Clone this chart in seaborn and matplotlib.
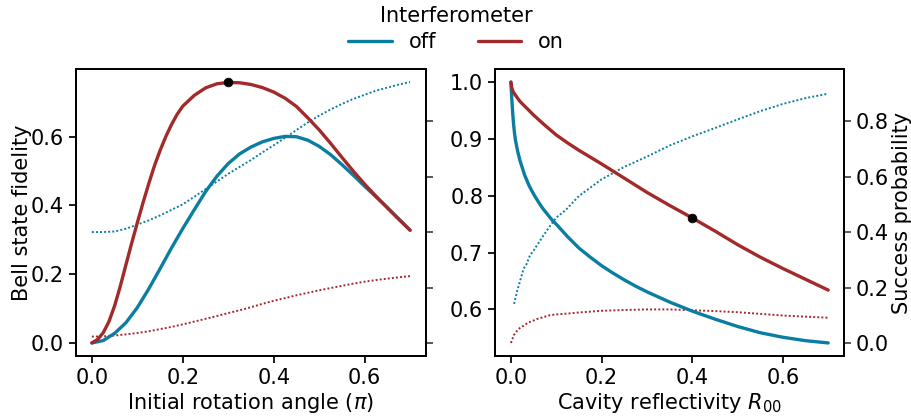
import matplotlib
matplotlib.use("Agg")
import matplotlib.pyplot as plt
import seaborn as sns
from matplotlib.lines import Line2D

# ---- Left panel: fidelity / success probability vs initial rotation angle (units of pi)
angle_x_off = [0.0, 0.025, 0.05, 0.075, 0.1, 0.125, 0.15, 0.175, 0.2, 0.225, 0.25, 0.275,
               0.3, 0.325, 0.35, 0.375, 0.4, 0.425, 0.45, 0.475, 0.5, 0.525, 0.55, 0.575,
               0.6, 0.625, 0.65, 0.675, 0.7]
fid_off_angle = [0.0, 0.007, 0.028, 0.059, 0.103, 0.157, 0.216, 0.276, 0.333, 0.387, 0.44,
                 0.485, 0.522, 0.55, 0.57, 0.585, 0.595, 0.601, 0.600, 0.59, 0.572, 0.548,
                 0.519, 0.488, 0.456, 0.425, 0.394, 0.361, 0.328]

angle_x_on = [0.0, 0.0125, 0.025, 0.0375, 0.05, 0.0625, 0.075, 0.0875, 0.1, 0.1125, 0.125,
              0.1375, 0.15, 0.1625, 0.175, 0.1875, 0.2, 0.225, 0.25, 0.275, 0.3, 0.325, 0.35,
              0.375, 0.4, 0.425, 0.45, 0.475, 0.5, 0.525, 0.55, 0.575, 0.6, 0.625, 0.65,
              0.675, 0.7]
fid_on_angle = [0.0, 0.01, 0.03, 0.062, 0.108, 0.165, 0.228, 0.29, 0.35, 0.408, 0.463,
                0.515, 0.56, 0.60, 0.635, 0.665, 0.689, 0.72, 0.742, 0.754, 0.758, 0.757,
                0.752, 0.743, 0.73, 0.712, 0.688, 0.655, 0.62, 0.581, 0.54, 0.50, 0.462,
                0.427, 0.393, 0.36, 0.328]

angle_x_prob = [0.0, 0.025, 0.05, 0.075, 0.1, 0.125, 0.15, 0.175, 0.2, 0.225, 0.25, 0.275,
                0.3, 0.325, 0.35, 0.375, 0.4, 0.425, 0.45, 0.475, 0.5, 0.525, 0.55, 0.575,
                0.6, 0.625, 0.65, 0.675, 0.7]
prob_off_angle = [0.40, 0.40, 0.402, 0.412, 0.427, 0.442, 0.46, 0.48, 0.50, 0.527, 0.555,
                  0.582, 0.61, 0.635, 0.66, 0.687, 0.713, 0.74, 0.768, 0.795, 0.82, 0.842,
                  0.862, 0.88, 0.895, 0.91, 0.921, 0.932, 0.941]
prob_on_angle = [0.023, 0.024, 0.027, 0.031, 0.036, 0.042, 0.05, 0.058, 0.067, 0.077, 0.087,
                 0.097, 0.108, 0.118, 0.129, 0.141, 0.152, 0.162, 0.172, 0.181, 0.19, 0.198,
                 0.206, 0.214, 0.221, 0.227, 0.232, 0.237, 0.241]

best_angle = 0.3
best_angle_fid = 0.758

# ---- Right panel: fidelity / success probability vs cavity reflectivity R00
refl_x_off = [0.0, 0.001, 0.002, 0.004, 0.006, 0.008, 0.01, 0.015, 0.02, 0.03, 0.04, 0.05,
              0.06, 0.07, 0.08, 0.09, 0.1, 0.125, 0.15, 0.175, 0.2, 0.225, 0.25, 0.275, 0.3,
              0.325, 0.35, 0.375, 0.4, 0.45, 0.5, 0.55, 0.6, 0.65, 0.7]
fid_off_refl = [1.0, 0.985, 0.97, 0.945, 0.925, 0.91, 0.898, 0.878, 0.862, 0.837, 0.818,
                0.803, 0.79, 0.778, 0.768, 0.758, 0.75, 0.728, 0.708, 0.692, 0.677, 0.664,
                0.652, 0.641, 0.631, 0.622, 0.613, 0.605, 0.597, 0.583, 0.570, 0.559, 0.551,
                0.545, 0.541]

refl_x_on = [0.0, 0.002, 0.005, 0.01, 0.02, 0.03, 0.05, 0.075, 0.1, 0.125, 0.15, 0.175, 0.2,
             0.25, 0.3, 0.35, 0.4, 0.45, 0.5, 0.55, 0.6, 0.65, 0.7]
fid_on_refl = [1.0, 0.99, 0.983, 0.977, 0.966, 0.958, 0.942, 0.924, 0.907, 0.893, 0.88,
               0.868, 0.856, 0.831, 0.806, 0.783, 0.761, 0.738, 0.714, 0.692, 0.672, 0.653,
               0.634]

refl_x_prob_off = [0.007, 0.014, 0.021, 0.028, 0.035, 0.042, 0.05, 0.057, 0.064, 0.071, 0.078,
                   0.085, 0.1, 0.12, 0.15, 0.2, 0.25, 0.3, 0.35, 0.4, 0.45, 0.5, 0.55, 0.6,
                   0.65, 0.7]
prob_off_refl = [0.141, 0.189, 0.228, 0.268, 0.286, 0.316, 0.333, 0.351, 0.368, 0.386, 0.402,
                 0.419, 0.452, 0.478, 0.53, 0.59, 0.635, 0.672, 0.712, 0.745, 0.775, 0.806,
                 0.836, 0.862, 0.883, 0.899]

refl_x_prob_on = [0.0, 0.007, 0.014, 0.021, 0.028, 0.035, 0.042, 0.05, 0.057, 0.071, 0.085,
                  0.1, 0.125, 0.15, 0.2, 0.25, 0.3, 0.35, 0.4, 0.45, 0.5, 0.55, 0.6, 0.65, 0.7]
prob_on_refl = [0.0, 0.03, 0.045, 0.056, 0.062, 0.07, 0.076, 0.081, 0.086, 0.093, 0.1,
                0.103, 0.106, 0.11, 0.116, 0.119, 0.121, 0.121, 0.118, 0.115, 0.111, 0.105,
                0.099, 0.095, 0.091]

best_refl = 0.4
best_refl_fid = 0.761

legend_labels = ["off", "on"]
legend_title = "Interferometer"

C_OFF = "#0A7EA2"
C_ON = "#A32A2A"
LW = 2.4
DOT = dict(lw=1.4, ls=(0, (1, 1.1)))

sns.set_theme(style="ticks", context="notebook")
plt.rcParams["font.family"] = ["DejaVu Sans"]
plt.rcParams.update({
    "font.size": 15,
    "axes.labelsize": 15,
    "xtick.labelsize": 15,
    "ytick.labelsize": 15,
    "text.color": "black",
    "axes.labelcolor": "black",
    "axes.edgecolor": "black",
    "axes.linewidth": 1.3,
    "xtick.color": "black",
    "ytick.color": "black",
    "xtick.major.size": 5,
    "ytick.major.size": 5,
    "xtick.major.pad": 3.5,
    "ytick.major.pad": 3.5,
    "lines.solid_joinstyle": "round",
})

fig = plt.figure(figsize=(9.12, 4.18), dpi=100)
ax1 = fig.add_axes([0.0833, 0.1483, 0.3838, 0.6866])
ax2 = fig.add_axes([0.5428, 0.1483, 0.3827, 0.6866])
ax1r = ax1.twinx()
ax2r = ax2.twinx()
ax2r.sharey(ax1r)

# left panel
sns.lineplot(x=angle_x_off, y=fid_off_angle, ax=ax1, color=C_OFF, lw=LW)
sns.lineplot(x=angle_x_on, y=fid_on_angle, ax=ax1, color=C_ON, lw=LW)
sns.scatterplot(x=[best_angle], y=[best_angle_fid], ax=ax1, color="black", s=40,
                edgecolor="black", zorder=5)
sns.lineplot(x=angle_x_prob, y=prob_off_angle, ax=ax1r, color=C_OFF, **DOT)
sns.lineplot(x=angle_x_prob, y=prob_on_angle, ax=ax1r, color=C_ON, **DOT)

# right panel
sns.lineplot(x=refl_x_off, y=fid_off_refl, ax=ax2, color=C_OFF, lw=LW)
sns.lineplot(x=refl_x_on, y=fid_on_refl, ax=ax2, color=C_ON, lw=LW)
sns.scatterplot(x=[best_refl], y=[best_refl_fid], ax=ax2, color="black", s=40,
                edgecolor="black", zorder=5)
sns.lineplot(x=refl_x_prob_off, y=prob_off_refl, ax=ax2r, color=C_OFF, **DOT)
sns.lineplot(x=refl_x_prob_on, y=prob_on_refl, ax=ax2r, color=C_ON, **DOT)

for ax in (ax1, ax2):
    ax.set_xlim(-0.035, 0.735)
    ax.set_xticks([0.0, 0.2, 0.4, 0.6])
    ax.set_zorder(ax.get_zorder() + 1)
    ax.patch.set_visible(False)

ax1.set_ylim(-0.038, 0.797)
ax1.set_yticks([0.0, 0.2, 0.4, 0.6])
ax2.set_ylim(0.518, 1.023)
ax2.set_yticks([0.6, 0.7, 0.8, 0.9, 1.0])
ax1r.set_ylim(-0.047, 0.988)
ax1r.set_yticks([0.0, 0.2, 0.4, 0.6, 0.8])
ax1r.tick_params(labelright=False)
for a in (ax1r, ax2r):
    a.tick_params(axis="y", color="#444444")

ax1.set_xlabel("Initial rotation angle ($\\pi$)", labelpad=2)
ax1.set_ylabel("Bell state fidelity", labelpad=-1)
ax2.set_xlabel("Cavity reflectivity $R_{00}$", labelpad=2)
ax2r.set_ylabel("Success probability", labelpad=2)
ax1r.set_ylabel("")
ax2.set_ylabel("")

for a in (ax1, ax2, ax1r, ax2r):
    for s in a.spines.values():
        s.set_visible(True)

handles = [Line2D([], [], color=C_OFF, lw=LW), Line2D([], [], color=C_ON, lw=LW)]
leg = fig.legend(handles, legend_labels, title=legend_title, loc="upper center",
                 bbox_to_anchor=(0.5, 1.03), ncol=2, frameon=False, fontsize=15,
                 title_fontsize=15, handlelength=2.1, columnspacing=2.0,
                 handletextpad=0.8, labelspacing=0.3)

fig.savefig("out.png", dpi=100)
